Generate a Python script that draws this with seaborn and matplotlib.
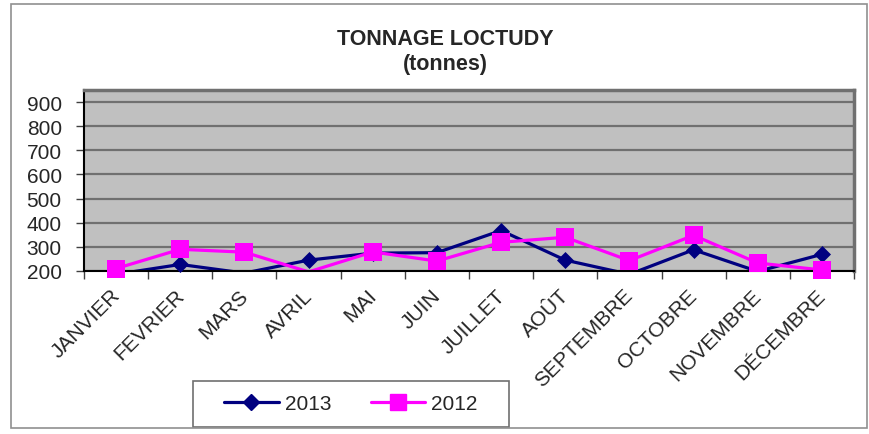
"""
Tonnage Loctudy - monthly landings 2013 vs 2012
"""

import numpy as np
import pandas as pd
import matplotlib
matplotlib.use("Agg")
import matplotlib.pyplot as plt
from matplotlib.patches import Rectangle
from matplotlib.transforms import ScaledTranslation
import seaborn as sns

# data (tonnes)
months = ['JANVIER', 'FEVRIER', 'MARS', 'AVRIL', 'MAI', 'JUIN', 'JUILLET',
          'AOÛT', 'SEPTEMBRE', 'OCTOBRE', 'NOVEMBRE', 'DÉCEMBRE']
tonnage_2013 = [185, 226, 190, 244, 273, 275, 367, 244, 185, 287, 197, 268]
tonnage_2012 = [209, 289, 277, 195, 278, 240, 318, 339, 242, 347, 232, 203]
years = ['2013', '2012']
y_ticks = [200, 300, 400, 500, 600, 700, 800, 900]

colors = {'2013': '#000080', '2012': '#FF00FF'}
markers = {'2013': 'D', '2012': 's'}
marker_sizes = {'2013': 75, '2012': 150}

df = pd.DataFrame({'mois': months, '2013': tonnage_2013, '2012': tonnage_2012})
df['pos'] = np.arange(len(months))
long_df = df.melt(id_vars=['mois', 'pos'], value_vars=years,
                  var_name='annee', value_name='tonnes')

sns.set_style("white")
plt.rcParams['font.family'] = ['Liberation Sans', 'DejaVu Sans']

W, H = 869, 435
fig = plt.figure(figsize=(W / 100, H / 100), dpi=100)
ax = fig.add_axes([84 / W, 1 - 271.7 / H, (854 - 84) / W, (271.7 - 91) / H])
ax.set_facecolor('#C0C0C0')

# lines (clipped at the axis like the original)
sns.lineplot(data=long_df, x='pos', y='tonnes', hue='annee', hue_order=years,
             palette=colors, linewidth=2.3, ax=ax, legend=False, sort=False)

# markers only for points inside the visible range, not clipped
for yr in years:
    sub = long_df[(long_df['annee'] == yr) & (long_df['tonnes'] >= 200)]
    sns.scatterplot(data=sub, x='pos', y='tonnes', color=colors[yr],
                    marker=markers[yr], s=marker_sizes[yr], linewidth=0,
                    ax=ax, legend=False, zorder=5, clip_on=False)

ax.set_xlim(-0.5, len(months) - 0.5)
ax.set_ylim(200, 951)
ax.set_yticks(y_ticks)
ax.set_yticklabels([str(v) for v in y_ticks], fontsize=15)
ax.yaxis.grid(True, color='#707070', linewidth=1.6)
ax.set_axisbelow(True)

ax.set_xticks(df['pos'])
ax.set_xticklabels(months, rotation=45, ha='right', va='top',
                   rotation_mode='anchor', fontsize=15)
ax.set_xticks(np.arange(len(months) + 1) - 0.5, minor=True)
ax.tick_params(axis='x', which='major', length=0, pad=12)
ax.tick_params(axis='x', which='minor', length=6, width=1, color='#404040',
               direction='out', bottom=True)
ax.tick_params(axis='y', length=6, width=1, color='#404040',
               direction='out', left=True, pad=10)
ax.set_xlabel('')
ax.set_ylabel('')

# nudge the rotated labels a little to the left, as in the original
shift = ScaledTranslation(-6 / 100, 2 / 100, fig.dpi_scale_trans)
for tick in ax.xaxis.get_major_ticks():
    tick.label1.set_transform(tick.label1.get_transform() + shift)

for side in ['left', 'bottom']:
    ax.spines[side].set_color('black')
    ax.spines[side].set_linewidth(1.5)
for side in ['top', 'right']:
    ax.spines[side].set_color('#707070')
    ax.spines[side].set_linewidth(2.5)

# title
fig.text(445 / W, 1 - 52 / H, 'TONNAGE LOCTUDY\n(tonnes)', ha='center',
         va='center', fontsize=15.5, fontweight='bold', linespacing=1.3)

# legend with its own box
handles = [plt.Line2D([], [], color=colors[yr], marker=markers[yr],
                      markersize=8 if yr == '2013' else 11, linewidth=2.3)
           for yr in years]
fig.legend(handles, years, loc='center', bbox_to_anchor=(351 / W, 1 - 405 / H),
           ncol=2, frameon=False, fontsize=15, handlelength=2.6,
           columnspacing=1.9, handletextpad=0.3)
fig.patches.append(Rectangle((193 / W, 1 - 428 / H), (509 - 193) / W, (428 - 382) / H,
                             transform=fig.transFigure, fill=False,
                             edgecolor='#707070', linewidth=1.2))

# outer chart border
fig.patches.append(Rectangle((11 / W, 1 - 429 / H), (867 - 11) / W, (429 - 5) / H,
                             transform=fig.transFigure, fill=False,
                             edgecolor='#909090', linewidth=1.2))

plt.savefig('out.png', dpi=100)
plt.close()
